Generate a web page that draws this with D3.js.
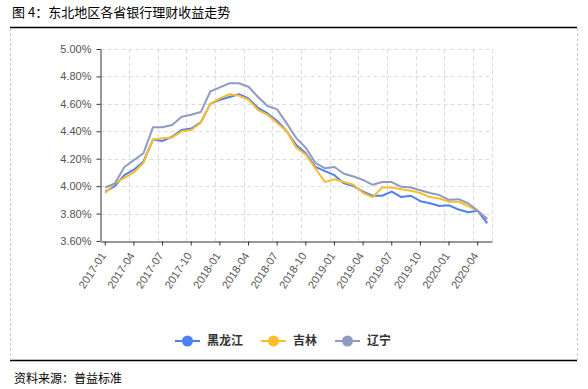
<!DOCTYPE html>
<html>
<meta charset="utf-8">
<head>
<script src="https://cdnjs.cloudflare.com/ajax/libs/d3/7.8.5/d3.min.js"></script>
</head>
<style>
body { margin: 0; background: #fff; font-family: "Noto Sans", "Noto Sans CJK SC", sans-serif; }
.grid line { stroke: #dcdcdc; stroke-dasharray: 4,3; }
.axis .domain { stroke: #333; }
.axis .tick line { stroke: #333; }
.axis .tick text { fill: #555; font-size: 11px; }
</style>
<body>
<svg id="canvas"></svg>
<script>
// months 2017-01 .. 2020-05
var months = [];
for (var yr = 2017; yr <= 2020; yr++) {
    for (var m = 1; m <= 12; m++) {
        if (yr === 2020 && m > 5) break;
        months.push(yr + "-" + (m < 10 ? "0" + m : m));
    }
}
var seriesNames = ["黑龙江", "吉林", "辽宁"];
var colors = ["#4e80f3", "#fcbd2c", "#8f9cc2"];
// yields in %
var heilongjiang = [3.96, 4.00, 4.08, 4.12, 4.18, 4.34, 4.33, 4.36, 4.41, 4.42, 4.465, 4.60, 4.63, 4.65, 4.67,
                    4.64, 4.57, 4.53, 4.475, 4.40, 4.30, 4.24, 4.14, 4.11, 4.08, 4.02, 4.00, 3.96, 3.93, 3.93,
                    3.96, 3.92, 3.93, 3.89, 3.875, 3.855, 3.86, 3.83, 3.81, 3.82, 3.73];
var jilin = [3.95, 4.02, 4.06, 4.10, 4.17, 4.34, 4.35, 4.355, 4.40, 4.41, 4.46, 4.60, 4.64, 4.67, 4.66,
             4.63, 4.555, 4.52, 4.46, 4.40, 4.28, 4.23, 4.13, 4.03, 4.05, 4.03, 4.01, 3.95, 3.92, 3.99,
             3.99, 3.977, 3.967, 3.95, 3.92, 3.91, 3.886, 3.886, 3.855, 3.82, 3.76];
var liaoning = [3.99, 4.02, 4.14, 4.19, 4.24, 4.43, 4.43, 4.446, 4.506, 4.52, 4.54, 4.69, 4.72, 4.75, 4.75,
                4.725, 4.65, 4.584, 4.56, 4.458, 4.35, 4.28, 4.17, 4.13, 4.14, 4.09, 4.07, 4.045, 4.01, 4.03,
                4.03, 3.995, 3.99, 3.97, 3.95, 3.935, 3.90, 3.905, 3.875, 3.82, 3.76];
var yTicks = [3.6, 3.8, 4.0, 4.2, 4.4, 4.6, 4.8, 5.0];

var W = 588, H = 389;
var plotLeft = 100.5, plotRight = 492, plotTop = 49, plotBottom = 241;

var svg = d3.select("#canvas").attr("width", W).attr("height", H);

// title and frame
svg.append("text").attr("x", 12).attr("y", 17)
   .style("font-family", "'Noto Sans CJK SC'").style("font-size", "13px").style("fill", "#000")
   .text("图 4：东北地区各省银行理财收益走势");
svg.append("line").attr("x1", 10).attr("x2", 577).attr("y1", 27.5).attr("y2", 27.5)
   .style("stroke", "#000").style("stroke-width", 1.5);
svg.append("line").attr("x1", 10).attr("x2", 577).attr("y1", 360.5).attr("y2", 360.5)
   .style("stroke", "#000").style("stroke-width", 1.5);
[10.5, 577.5].forEach(function(xv) {
    svg.append("line").attr("x1", xv).attr("x2", xv).attr("y1", 28).attr("y2", 360)
       .style("stroke", "#c8c8c8").style("stroke-dasharray", "3,2");
});
svg.append("text").attr("x", 14).attr("y", 383)
   .style("font-family", "'Noto Sans CJK SC'").style("font-size", "12px").style("fill", "#000")
   .text("资料来源：普益标准");

var x = d3.scaleBand().domain(months).range([plotLeft, plotRight]).paddingInner(0).paddingOuter(0);
var yScale = d3.scaleLinear().domain([3.6, 5.0]).range([plotBottom, plotTop]);

// grid
var grid = svg.append("g").classed("grid", true);
grid.selectAll(".h").data(yTicks.slice(1)).enter().append("line")
    .attr("x1", plotLeft).attr("x2", plotRight)
    .attr("y1", function(d) { return Math.round(yScale(d)) + 0.5; })
    .attr("y2", function(d) { return Math.round(yScale(d)) + 0.5; });
var vIdx = d3.range(3, months.length, 3).concat([months.length]);
grid.selectAll(".v").data(vIdx).enter().append("line")
    .attr("x1", function(i) { return Math.round(plotLeft + i * x.bandwidth()) + 0.5; })
    .attr("x2", function(i) { return Math.round(plotLeft + i * x.bandwidth()) + 0.5; })
    .attr("y1", plotTop).attr("y2", plotBottom);

// axes
var yAxis = d3.axisLeft(yScale).tickValues(yTicks).tickSize(4).tickPadding(5)
    .tickFormat(function(d) { return d.toFixed(2) + "%"; });
svg.append("g").classed("axis", true).attr("transform", "translate(" + plotLeft + ",0)").call(yAxis)
   .call(function(g) { g.select(".domain").attr("d", "M0.5," + plotTop + "V" + plotBottom); });

var xAxis = d3.axisBottom(x).tickValues(months.filter(function(d, i) { return i % 3 === 0; }))
    .tickSize(4).tickSizeOuter(0).tickPadding(4);
var xg = svg.append("g").classed("axis", true).attr("transform", "translate(0," + (plotBottom + 0.5) + ")").call(xAxis);
xg.selectAll(".tick text")
  .attr("text-anchor", "end").attr("dy", "0.35em")
  .attr("transform", "translate(-2,12) rotate(-57)")
  .attr("y", 0).attr("x", 0);

// lines
var allSeries = [heilongjiang, jilin, liaoning];
var line = d3.line()
    .x(function(d, i) { return x(months[i]) + x.bandwidth() / 2; })
    .y(function(d) { return yScale(d); });
allSeries.forEach(function(s, k) {
    svg.append("path").datum(s).attr("d", line)
       .style("fill", "none").style("stroke", colors[k]).style("stroke-width", 2)
       .style("stroke-linejoin", "round");
});

// legend
var legend = svg.append("g");
var lx = 0;
seriesNames.forEach(function(name, k) {
    var g = legend.append("g").attr("transform", "translate(" + lx + ",0)");
    g.append("line").attr("x1", 0).attr("x2", 25).attr("y1", 0).attr("y2", 0)
     .style("stroke", colors[k]).style("stroke-width", 2);
    g.append("circle").attr("cx", 12.5).attr("cy", 0).attr("r", 5.5).style("fill", colors[k]);
    var t = g.append("text").attr("x", 32).attr("y", 4)
     .style("font-family", "'Noto Sans CJK SC'").style("font-size", "12px").style("font-weight", "bold")
     .style("fill", "#333").text(name);
    lx += 32 + t.node().getComputedTextLength() + 18;
});
lx -= 18;
legend.attr("transform", "translate(" + (283 - lx / 2) + ",341)");
</script>
</body>
</html>
